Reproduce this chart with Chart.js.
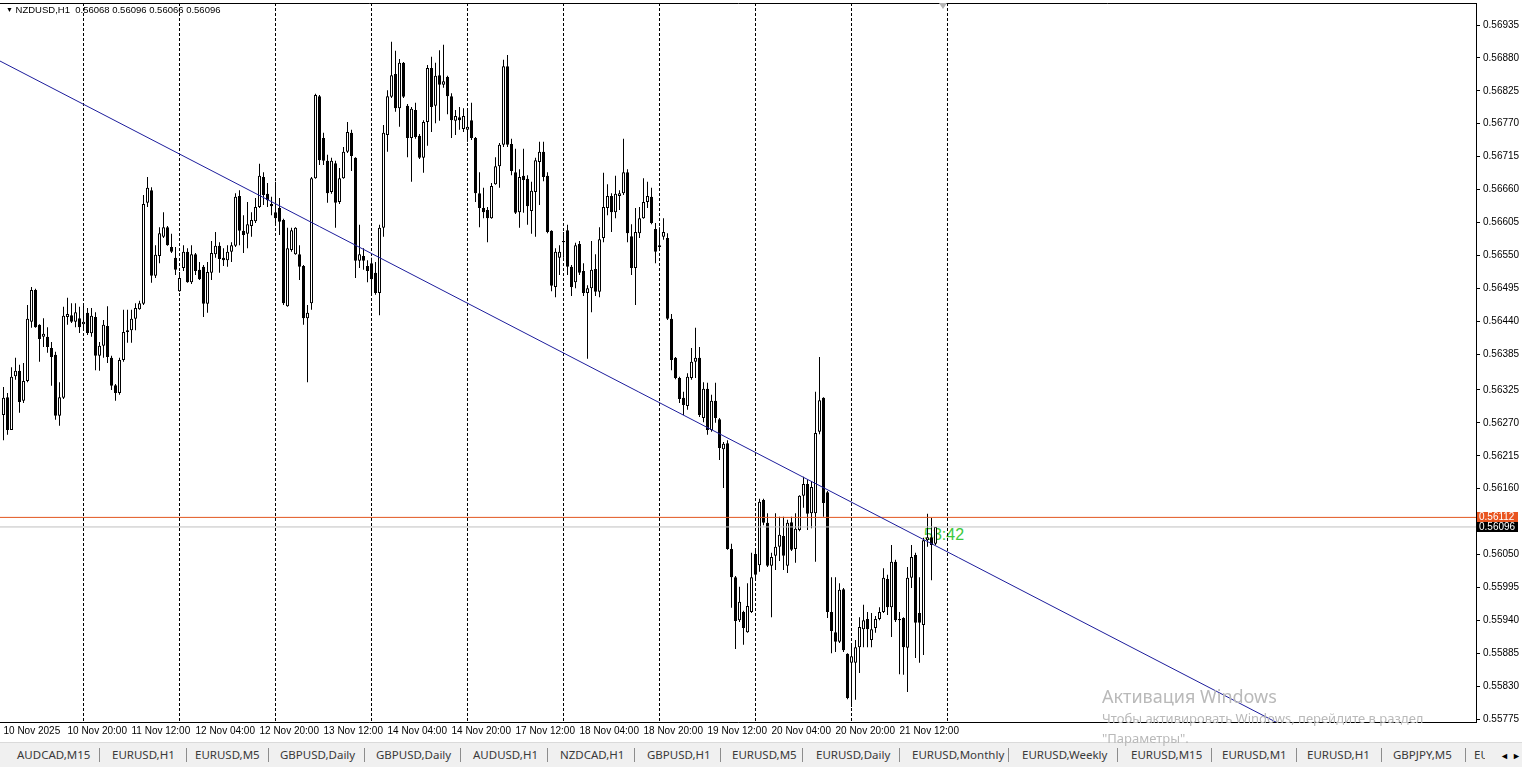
<!DOCTYPE html>
<html>
<head>
<meta charset="utf-8">
<title>NZDUSD,H1</title>
<script src="https://cdn.jsdelivr.net/npm/chart.js@4.4.0/dist/chart.umd.min.js"></script>
<style>
    html, body { margin: 0; padding: 0; background: #fff; }
    body { width: 1522px; height: 767px; position: relative; overflow: hidden; font-family: "Liberation Sans", Arial, sans-serif; }
    #wrap { position: absolute; left: 0; top: 0; width: 1522px; height: 742px; z-index: 1; }
    #header { position: absolute; left: 6px; top: 4px; font-size: 9.5px; color: #000; z-index: 2; white-space: pre; }
    #header .tri { font-size: 7px; position: relative; top: -1px; }
    #timer { position: absolute; left: 924px; top: 527px; font-size: 16px; line-height: 16px; color: #3cc83c; z-index: 0; }
    .pricebox { position: absolute; left: 1477px; width: 41px; height: 10px; line-height: 10px; font-size: 10px; color: #fff; text-align: left; padding-left: 2px; box-sizing: border-box; z-index: 2; }
    #shift { position: absolute; left: 939px; top: 3px; width: 0; height: 0; border-left: 4px solid transparent; border-right: 4px solid transparent; border-top: 6px solid #b4b4b4; z-index: 2; }
    #tabs { position: absolute; left: 0; top: 742px; width: 1522px; height: 25px; background: #f0f0f0; border-top: 1px solid #dadada; z-index: 2; font-family: "Noto Sans", sans-serif; font-size: 11.5px; color: #3a3a3a; }
    #tabs span { position: absolute; top: 4px; white-space: nowrap; }
    #tabs .sep { position: absolute; top: 5px; width: 1px; height: 14px; background: #8c8c8c; }
    .wm { position: absolute; left: 1102px; color: #b9b9b9; font-family: "Noto Sans", sans-serif; white-space: nowrap; z-index: 3; }
</style>
</head>
<body>
<div id="timer">53:42</div>
<div id="wrap"><canvas id="chart"></canvas></div>
<div id="header"><span class="tri">&#9660;</span> NZDUSD,H1  0.56068 0.56096 0.56066 0.56096</div>
<div id="shift"></div>
<div id="askbox" class="pricebox" style="background:#e9541f">0.56112</div>
<div id="bidbox" class="pricebox" style="background:#000">0.56096</div>
<div id="tabs"></div>
<div class="wm" style="top:684px;font-size:18px">Активация Windows</div>
<div class="wm" style="top:709px;font-size:13px">Чтобы активировать Windows, перейдите в раздел</div>
<div class="wm" style="top:729px;font-size:13px">"Параметры".</div>
<script>
// NZDUSD H1, one value per hourly bar, bar 0 = 10 Nov 04:00
var open = [
0.56283,0.56313,0.56258,0.56348,0.56357,0.56307,0.56340,0.56439,0.56492,0.56434,
0.56414,0.56414,0.56395,0.56384,0.56282,0.56312,0.56447,0.56450,0.56439,0.56445,
0.56435,0.56454,0.56420,0.56447,0.56382,0.56399,0.56432,0.56379,0.56333,0.56320,
0.56375,0.56422,0.56425,0.56444,0.56460,0.56469,0.56638,0.56659,0.56516,0.56549,
0.56581,0.56597,0.56564,0.56546,0.56490,0.56529,0.56556,0.56505,0.56552,0.56526,
0.56531,0.56469,0.56521,0.56552,0.56566,0.56546,0.56542,0.56556,0.56566,0.56649,
0.56591,0.56586,0.56599,0.56607,0.56631,0.56681,0.56653,0.56636,0.56622,0.56629,
0.56609,0.56465,0.56559,0.56552,0.56552,0.56532,0.56445,0.56470,0.56679,0.56816,
0.56746,0.56708,0.56656,0.56704,0.56639,0.56679,0.56723,0.56755,0.56713,0.56541,
0.56549,0.56532,0.56537,0.56521,0.56487,0.56596,0.56751,0.56815,0.56853,0.56796,
0.56872,0.56800,0.56746,0.56793,0.56750,0.56713,0.56773,0.56863,0.56800,0.56851,
0.56835,0.56848,0.56816,0.56775,0.56781,0.56761,0.56760,0.56776,0.56746,0.56654,
0.56629,0.56626,0.56612,0.56669,0.56699,0.56735,0.56866,0.56736,0.56689,0.56622,
0.56683,0.56678,0.56624,0.56656,0.56706,0.56723,0.56683,0.56591,0.56497,0.56546,
0.56574,0.56592,0.56531,0.56505,0.56569,0.56524,0.56487,0.56495,0.56527,0.56489,
0.56579,0.56629,0.56649,0.56622,0.56649,0.56654,0.56689,0.56582,0.56529,0.56587,
0.56612,0.56639,0.56648,0.56594,0.56564,0.56581,0.56579,0.56444,0.56379,0.56345,
0.56312,0.56298,0.56345,0.56372,0.56379,0.56278,0.56327,0.56258,0.56307,0.56276,
0.56226,0.56236,0.56059,0.56012,0.55940,0.55954,0.55920,0.55954,0.56051,0.56032,
0.56141,0.56103,0.56031,0.56048,0.56063,0.56081,0.56031,0.56104,0.56059,0.56091,
0.56148,0.56168,0.56119,0.56119,0.56255,0.56312,0.56154,0.55954,0.55920,0.55904,
0.55992,0.55884,0.55869,0.55869,0.55895,0.55925,0.55942,0.55907,0.55927,0.55942,
0.55954,0.56009,0.55962,0.56038,0.55942,0.55944,0.55894,0.56011,0.56049,0.55952,
0.55932,0.56074,0.56079,0.56068];

var high = [
0.56330,0.56320,0.56363,0.56379,0.56367,0.56370,0.56467,0.56497,0.56494,0.56435,
0.56445,0.56430,0.56405,0.56389,0.56338,0.56464,0.56479,0.56470,0.56470,0.56464,
0.56467,0.56462,0.56462,0.56455,0.56405,0.56442,0.56465,0.56382,0.56335,0.56379,
0.56459,0.56459,0.56459,0.56470,0.56474,0.56651,0.56681,0.56664,0.56567,0.56597,
0.56622,0.56599,0.56586,0.56564,0.56522,0.56567,0.56562,0.56567,0.56554,0.56539,
0.56534,0.56539,0.56574,0.56589,0.56572,0.56562,0.56567,0.56572,0.56654,0.56659,
0.56617,0.56639,0.56622,0.56646,0.56703,0.56689,0.56671,0.56648,0.56673,0.56646,
0.56611,0.56596,0.56596,0.56597,0.56567,0.56534,0.56467,0.56681,0.56820,0.56818,
0.56755,0.56718,0.56713,0.56708,0.56696,0.56731,0.56773,0.56760,0.56714,0.56601,
0.56562,0.56542,0.56546,0.56539,0.56601,0.56768,0.56826,0.56907,0.56892,0.56878,
0.56873,0.56803,0.56798,0.56805,0.56753,0.56776,0.56868,0.56882,0.56872,0.56893,
0.56902,0.56850,0.56821,0.56793,0.56798,0.56796,0.56796,0.56805,0.56748,0.56689,
0.56663,0.56631,0.56671,0.56714,0.56738,0.56877,0.56885,0.56745,0.56728,0.56694,
0.56728,0.56684,0.56673,0.56713,0.56740,0.56740,0.56689,0.56592,0.56562,0.56567,
0.56589,0.56601,0.56534,0.56571,0.56574,0.56537,0.56500,0.56574,0.56552,0.56597,
0.56688,0.56669,0.56654,0.56683,0.56659,0.56745,0.56694,0.56602,0.56629,0.56631,
0.56679,0.56673,0.56663,0.56604,0.56597,0.56612,0.56587,0.56452,0.56380,0.56347,
0.56322,0.56353,0.56395,0.56429,0.56397,0.56338,0.56337,0.56317,0.56337,0.56278,
0.56238,0.56241,0.56068,0.56014,0.55996,0.55956,0.56002,0.56053,0.56059,0.56143,
0.56143,0.56119,0.56053,0.56119,0.56113,0.56113,0.56108,0.56113,0.56119,0.56149,
0.56180,0.56175,0.56173,0.56322,0.56380,0.56313,0.56156,0.56012,0.56012,0.56002,
0.55994,0.55885,0.55899,0.55907,0.55945,0.55966,0.55954,0.55952,0.55947,0.55962,
0.56027,0.56016,0.56066,0.56041,0.55954,0.55945,0.56029,0.56066,0.56053,0.56012,
0.56078,0.56118,0.56111,0.56096];

var low = [
0.56241,0.56250,0.56258,0.56342,0.56287,0.56303,0.56338,0.56429,0.56429,0.56372,
0.56397,0.56387,0.56332,0.56275,0.56265,0.56310,0.56434,0.56437,0.56430,0.56420,
0.56425,0.56417,0.56414,0.56358,0.56357,0.56379,0.56370,0.56325,0.56307,0.56317,
0.56372,0.56404,0.56404,0.56425,0.56459,0.56467,0.56631,0.56504,0.56512,0.56537,
0.56579,0.56566,0.56554,0.56517,0.56489,0.56524,0.56504,0.56502,0.56517,0.56509,
0.56447,0.56454,0.56509,0.56546,0.56521,0.56532,0.56531,0.56539,0.56564,0.56567,
0.56554,0.56562,0.56581,0.56604,0.56629,0.56634,0.56631,0.56617,0.56601,0.56584,
0.56467,0.56464,0.56556,0.56551,0.56509,0.56434,0.56338,0.56459,0.56678,0.56701,
0.56701,0.56638,0.56653,0.56596,0.56636,0.56678,0.56721,0.56691,0.56512,0.56529,
0.56526,0.56505,0.56484,0.56484,0.56450,0.56581,0.56723,0.56813,0.56790,0.56765,
0.56813,0.56714,0.56673,0.56745,0.56711,0.56688,0.56733,0.56756,0.56771,0.56775,
0.56830,0.56786,0.56746,0.56751,0.56760,0.56756,0.56740,0.56743,0.56639,0.56597,
0.56612,0.56572,0.56611,0.56668,0.56663,0.56731,0.56731,0.56684,0.56619,0.56596,
0.56621,0.56601,0.56586,0.56581,0.56634,0.56674,0.56587,0.56490,0.56480,0.56517,
0.56546,0.56517,0.56482,0.56495,0.56517,0.56482,0.56377,0.56455,0.56482,0.56480,
0.56572,0.56617,0.56589,0.56612,0.56626,0.56651,0.56572,0.56517,0.56467,0.56579,
0.56611,0.56629,0.56602,0.56537,0.56562,0.56576,0.56442,0.56358,0.56343,0.56303,
0.56283,0.56292,0.56342,0.56345,0.56280,0.56271,0.56250,0.56255,0.56270,0.56208,
0.56161,0.56058,0.55961,0.55892,0.55937,0.55899,0.55919,0.55952,0.56007,0.56021,
0.56099,0.56029,0.55945,0.56024,0.56039,0.56024,0.56019,0.56056,0.56036,0.56089,
0.56128,0.56091,0.56094,0.56038,0.56251,0.56113,0.55944,0.55885,0.55887,0.55902,
0.55887,0.55808,0.55795,0.55807,0.55852,0.55895,0.55895,0.55895,0.55919,0.55940,
0.55952,0.55949,0.55912,0.55937,0.55850,0.55849,0.55820,0.55994,0.55877,0.55869,
0.55882,0.56063,0.56007,0.56066];

var close = [
0.56312,0.56258,0.56347,0.56357,0.56305,0.56340,0.56444,0.56492,0.56430,0.56410,
0.56419,0.56397,0.56380,0.56282,0.56313,0.56449,0.56452,0.56439,0.56455,0.56430,
0.56439,0.56420,0.56449,0.56382,0.56399,0.56434,0.56380,0.56332,0.56320,0.56375,
0.56422,0.56425,0.56444,0.56462,0.56470,0.56636,0.56663,0.56516,0.56551,0.56587,
0.56597,0.56567,0.56556,0.56526,0.56512,0.56556,0.56505,0.56552,0.56524,0.56510,
0.56469,0.56522,0.56554,0.56566,0.56544,0.56542,0.56556,0.56567,0.56648,0.56591,
0.56584,0.56602,0.56609,0.56631,0.56683,0.56651,0.56642,0.56632,0.56612,0.56606,
0.56470,0.56562,0.56592,0.56596,0.56531,0.56445,0.56454,0.56679,0.56818,0.56709,
0.56708,0.56654,0.56708,0.56638,0.56679,0.56723,0.56756,0.56716,0.56541,0.56552,
0.56541,0.56524,0.56510,0.56487,0.56596,0.56755,0.56816,0.56851,0.56796,0.56872,
0.56815,0.56746,0.56795,0.56748,0.56713,0.56773,0.56863,0.56798,0.56850,0.56835,
0.56841,0.56816,0.56776,0.56783,0.56776,0.56783,0.56765,0.56746,0.56654,0.56629,
0.56622,0.56612,0.56666,0.56699,0.56735,0.56866,0.56735,0.56691,0.56621,0.56681,
0.56676,0.56632,0.56658,0.56709,0.56723,0.56681,0.56589,0.56499,0.56556,0.56556,
0.56572,0.56531,0.56497,0.56567,0.56521,0.56487,0.56495,0.56526,0.56489,0.56577,
0.56631,0.56649,0.56622,0.56653,0.56654,0.56689,0.56587,0.56529,0.56589,0.56612,
0.56639,0.56649,0.56604,0.56556,0.56567,0.56589,0.56444,0.56375,0.56345,0.56310,
0.56300,0.56347,0.56372,0.56379,0.56283,0.56327,0.56258,0.56307,0.56278,0.56228,
0.56235,0.56059,0.56012,0.55939,0.55971,0.55927,0.55964,0.56012,0.56016,0.56138,
0.56103,0.56031,0.56046,0.56063,0.56083,0.56048,0.56103,0.56058,0.56093,0.56148,
0.56168,0.56118,0.56163,0.56253,0.56308,0.56136,0.55954,0.55922,0.55904,0.55991,
0.55890,0.55810,0.55880,0.55895,0.55929,0.55940,0.55925,0.55925,0.55942,0.55954,
0.56011,0.55962,0.56038,0.55940,0.55940,0.55895,0.56011,0.56046,0.55936,0.55936,
0.56074,0.56079,0.56066,0.56096];

// bottom time labels, one every 16 bars
var timeLabels = ['10 Nov 2025', '10 Nov 20:00', '11 Nov 12:00', '12 Nov 04:00', '12 Nov 20:00',
    '13 Nov 12:00', '14 Nov 04:00', '14 Nov 20:00', '17 Nov 12:00', '18 Nov 04:00',
    '18 Nov 20:00', '19 Nov 12:00', '20 Nov 04:00', '20 Nov 20:00', '21 Nov 12:00'];
var hoursPerLabel = 16;

// first bar of each day (period separators)
var dayStarts = [20, 44, 68, 92, 116, 140, 164, 188, 212, 236];

var priceTicks = [0.56935, 0.56880, 0.56825, 0.56770, 0.56715, 0.56660, 0.56605, 0.56550,
    0.56495, 0.56440, 0.56385, 0.56325, 0.56270, 0.56215, 0.56160, 0.56050, 0.55995,
    0.55940, 0.55885, 0.55830, 0.55775];

var askLevel = 0.56112;
var bidLevel = 0.56096;

// trend line anchors [bar, price]
var trendFrom = [-0.875, 0.568748];
var trendTo = [320, 0.557633];

var tabNames = ['AUDCAD,M15', 'EURUSD,H1', 'EURUSD,M5', 'GBPUSD,Daily', 'GBPUSD,Daily', 'AUDUSD,H1',
    'NZDCAD,H1', 'GBPUSD,H1', 'EURUSD,M5', 'EURUSD,Daily', 'EURUSD,Monthly', 'EURUSD,Weekly',
    'EURUSD,M15', 'EURUSD,M1', 'EURUSD,H1', 'GBPJPY,M5', 'EURUSD'];
var tabLeft = [17, 112, 195, 280, 376, 473, 560, 647, 732, 816, 912, 1022, 1131, 1222, 1307, 1393, 1474];
var tabSepLeft = [99, 186, 268, 364, 460, 547, 634, 720, 802, 899, 1008, 1117, 1211, 1296, 1381, 1465];

var xMin = -0.875, xMax = 368.125;
var yMin = 0.55770, yMax = 0.569718;

var wicks = [], bodies = [];
for (var i = 0; i < open.length; i++) {
    wicks.push({x: i, y: [low[i], high[i]]});
    bodies.push({x: i, y: [open[i], close[i]]});
}

function flatLine(level) {
    return [{x: xMin, y: level}, {x: xMax, y: level}];
}

Chart.defaults.font.family = '"Liberation Sans", Arial, sans-serif';

var chart = new Chart(document.getElementById('chart'), {
    type: 'bar',
    data: {
        datasets: [
            {type: 'line', data: [{x: trendFrom[0], y: trendFrom[1]}, {x: trendTo[0], y: trendTo[1]}],
                borderColor: '#1d1d9c', borderWidth: 1, pointRadius: 0, pointHoverRadius: 0, order: 0},
            {type: 'line', data: flatLine(askLevel), borderColor: '#e2561f', borderWidth: 1, pointRadius: 0, pointHoverRadius: 0, order: 1},
            {type: 'line', data: flatLine(bidLevel), borderColor: '#c0c0c0', borderWidth: 1, pointRadius: 0, pointHoverRadius: 0, order: 1},
            {data: bodies, grouped: false, barThickness: 3, minBarLength: 1, order: 2,
                backgroundColor: function (c) {
                    var k = c.dataIndex;
                    return close[k] >= open[k] ? '#ffffff' : '#000000';
                },
                borderColor: '#000', borderWidth: 1, borderSkipped: false, inflateAmount: 0},
            {data: wicks, grouped: false, barThickness: 1, order: 3,
                backgroundColor: '#000', borderWidth: 0, inflateAmount: 0}
        ]
    },
    options: {
        responsive: true,
        maintainAspectRatio: false,
        animation: false,
        events: [],
        layout: {autoPadding: false, padding: {left: 0, top: 3, right: 0, bottom: 0}},
        plugins: {legend: {display: false}, tooltip: {enabled: false}},
        scales: {
            x: {
                type: 'linear', position: 'bottom', min: xMin, max: xMax, offset: false,
                afterBuildTicks: function (s) {
                    s.ticks = timeLabels.map(function (t, k) { return {value: k * hoursPerLabel}; });
                },
                afterFit: function (s) { s.height = 20; s.paddingLeft = 0; s.paddingRight = 0; },
                ticks: {
                    autoSkip: false, maxRotation: 0, align: 'start', padding: 3, color: '#000',
                    font: {size: 10},
                    callback: function (v, idx) { return timeLabels[idx]; }
                },
                grid: {display: false, drawTicks: false, offset: false},
                border: {display: true, color: '#000'}
            },
            sep: {
                type: 'linear', position: 'bottom', min: xMin, max: xMax, offset: false,
                afterBuildTicks: function (s) {
                    s.ticks = dayStarts.map(function (b) { return {value: b}; });
                },
                afterFit: function (s) { s.height = 0; s.paddingLeft = 0; s.paddingRight = 0; },
                ticks: {display: false},
                grid: {color: '#000', lineWidth: 1, drawTicks: false, offset: false},
                border: {display: false, dash: [3, 2]}
            },
            top: {
                type: 'linear', position: 'top', min: xMin, max: xMax, offset: false,
                afterBuildTicks: function (s) { s.ticks = [{value: xMin}]; },
                afterFit: function (s) { s.height = 0; s.paddingLeft = 0; s.paddingRight = 0; },
                ticks: {display: false},
                grid: {display: false, drawTicks: false, offset: false},
                border: {display: true, color: '#000'}
            },
            y: {
                type: 'linear', position: 'right', min: yMin, max: yMax,
                afterBuildTicks: function (s) {
                    s.ticks = priceTicks.map(function (p) { return {value: p}; });
                },
                afterFit: function (s) { s.width = 46; s.paddingTop = 0; s.paddingBottom = 0; },
                ticks: {
                    color: '#000', padding: 3, font: {size: 10},
                    callback: function (v) { return v.toFixed(5); }
                },
                grid: {drawOnChartArea: false, drawTicks: true, tickLength: 4, tickColor: '#000'},
                border: {color: '#000'}
            }
        }
    }
});

// price tags on the right scale
var ys = chart.scales.y;
document.getElementById('askbox').style.top = (ys.getPixelForValue(askLevel) - 5) + 'px';
document.getElementById('bidbox').style.top = (ys.getPixelForValue(bidLevel) - 5) + 'px';

// symbol tabs at the bottom
var tabs = document.getElementById('tabs');
tabNames.forEach(function (name, k) {
    var s = document.createElement('span');
    s.textContent = name;
    s.style.left = tabLeft[k] + 'px';
    if (k === tabNames.length - 1) {
        s.style.width = '11px';
        s.style.overflow = 'hidden';
    }
    tabs.appendChild(s);
});
tabSepLeft.forEach(function (x) {
    var d = document.createElement('div');
    d.className = 'sep';
    d.style.left = x + 'px';
    tabs.appendChild(d);
});
['\u25C4', '\u25BA'].forEach(function (a, k) {
    var s = document.createElement('span');
    s.textContent = a;
    s.style.left = (1500 + k * 12) + 'px';
    s.style.top = '6px';
    s.style.fontSize = '9px';
    s.style.color = '#000';
    tabs.appendChild(s);
});
</script>
</body>
</html>
